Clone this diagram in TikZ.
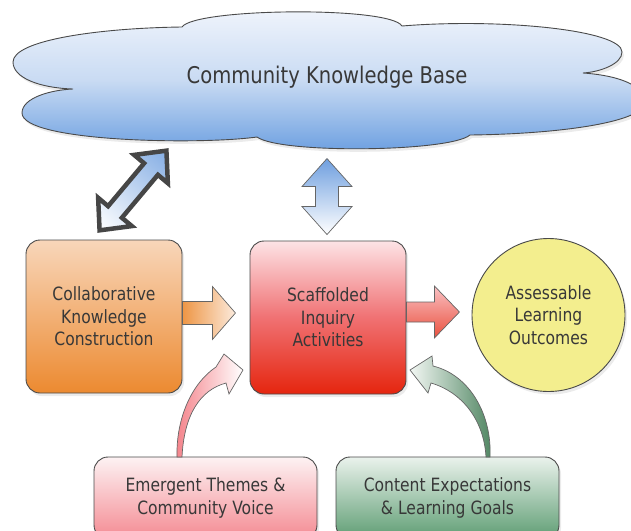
\documentclass[tikz,border=0pt]{standalone}
\usepackage{fontspec}
\setmainfont{DejaVu Sans}[FakeStretch=0.85]
\usetikzlibrary{shadows}
\definecolor{txt}{HTML}{383838}
\definecolor{edge}{HTML}{4A4A4A}
\definecolor{cloudtop}{HTML}{F1F5FC}
\definecolor{cloudmid}{HTML}{C9DBF3}
\definecolor{cloudbot}{HTML}{6A9EE0}
\definecolor{orgtop}{HTML}{F8D6BA}
\definecolor{orgbot}{HTML}{EC8A30}
\definecolor{redtop}{HTML}{FDE3E6}
\definecolor{redmid}{HTML}{F07173}
\definecolor{redbot}{HTML}{E5250E}
\definecolor{yel}{HTML}{F3EE8E}
\definecolor{pinktop}{HTML}{FDF2F3}
\definecolor{pinkbot}{HTML}{F48A92}
\definecolor{grntop}{HTML}{EAF2EC}
\definecolor{grnbot}{HTML}{5E9D73}
\definecolor{arrblue}{HTML}{6F9FDF}
\begin{document}
\begin{tikzpicture}[x=1pt,y=-1pt,
  softshadow/.style={drop shadow={opacity=0.16,shadow xshift=2pt,shadow yshift=-3pt}},
  box/.style={draw=edge,line width=0.9pt,rounded corners=14pt,align=center,
    text=txt,font=\fontsize{18.3}{22.5}\selectfont,inner sep=0pt,softshadow},
  blockarrow/.style={draw=edge!85,line width=0.7pt,line join=miter},
  label/.style={text=txt,align=center}]
\useasboundingbox (0,0) rectangle (631,530);

% knowledge-base cloud
\path[draw=edge,line width=0.9pt,top color=cloudtop,bottom color=cloudbot,middle color=cloudmid,softshadow]
  (73,89) .. controls (40,88) and (13,78) .. (13,62)
  .. controls (13,40) and (100,28) .. (182,27)
  .. controls (195,8) and (390,6) .. (402,26)
  .. controls (500,18) and (622,30) .. (622,52)
  .. controls (622,64) and (600,72) .. (583,73)
  .. controls (625,76) and (645,88) .. (645,102)
  .. controls (645,122) and (560,134) .. (470,135)
  .. controls (450,152) and (280,154) .. (257,137)
  .. controls (200,145) and (22,142) .. (22,113)
  .. controls (22,98) and (50,90) .. (73,89) -- cycle;
\node[label,font=\fontsize{23}{27}\selectfont] (ckb) at (327,77) {Community Knowledge Base};

% main boxes
\node[box,minimum width=156pt,minimum height=153pt,top color=orgtop,bottom color=orgbot]
  (ckc) at (104,316.5) {Collaborative\\Knowledge\\Construction};
\node[box,minimum width=156pt,minimum height=153pt,top color=redtop,bottom color=redbot,middle color=redmid]
  (sia) at (328,317.5) {Scaffolded\\Inquiry\\Activities};
\node[draw=edge,line width=0.9pt,circle,fill=yel,minimum size=153pt,inner sep=0pt,
  label,font=\fontsize{18.3}{22.5}\selectfont,softshadow]
  (alo) at (548.5,315) {Assessable\\Learning\\Outcomes};
\node[box,minimum width=223pt,minimum height=82pt,top color=pinktop,bottom color=pinkbot]
  (emt) at (205.5,498) {Emergent Themes \&\\Community Voice};
\node[box,minimum width=223pt,minimum height=82pt,top color=grntop,bottom color=grnbot]
  (cel) at (447.5,498) {Content Expectations\\\& Learning Goals};

% two-way link between the cloud and the collaborative box
\coordinate (dcen) at (133,190.5);
\begin{scope}[transform canvas={shift={(dcen)},rotate=50}]
  \path[draw=edge!95!black,line width=4.5pt,line join=miter,left color=white,right color=arrblue!85]
    (-52,0) -- (-28,22) -- (-28,9) -- (28,9) -- (28,22) -- (52,0)
    -- (28,-22) -- (28,-9) -- (-28,-9) -- (-28,-22) -- cycle;
\end{scope}

% two-way link between the cloud and the inquiry box
\begin{scope}[shift={(sia.north)}]
  \path[blockarrow,top color=arrblue,bottom color=white]
    (-1,-82) -- (24,-54) -- (10.5,-54) -- (10.5,-34) -- (24,-34) -- (-1,-6)
    -- (-26,-34) -- (-12.5,-34) -- (-12.5,-54) -- (-26,-54) -- cycle;
\end{scope}

% collaborative box -> inquiry box
\begin{scope}[shift={(ckc.east)}]
  \path[blockarrow,left color=orgbot!90,right color=orgtop!50]
    (0,-15) -- (30,-15) -- (30,-30) -- (53,-3.5) -- (30,23) -- (30,8) -- (0,8) -- cycle;
\end{scope}

% inquiry box -> outcomes
\begin{scope}[shift={(sia.east)}]
  \path[blockarrow,top color=redtop!70!redmid,bottom color=redbot!80!white]
    (0,-15.5) -- (28,-15.5) -- (28,-31.5) -- (53,-5.5) -- (28,20.5) -- (28,4.5) -- (0,4.5) -- cycle;
\end{scope}

% curved feeders from the lower boxes
\path[blockarrow,left color=pinkbot!95!red,right color=white]
  (177,457) .. controls (176,418) and (192,383) .. (216,367)
  -- (224,354) -- (243,370) -- (229,394) -- (226,383)
  .. controls (200,390) and (184,415) .. (182,457) -- cycle;
\path[blockarrow,left color=grntop!60!white,right color=grnbot!85!black]
  (490,457) .. controls (492,415) and (470,375) .. (433,366)
  -- (432,356) -- (410,370) -- (428,393) -- (431,383)
  .. controls (462,392) and (484,420) .. (486,457) -- cycle;
\end{tikzpicture}
\end{document}
